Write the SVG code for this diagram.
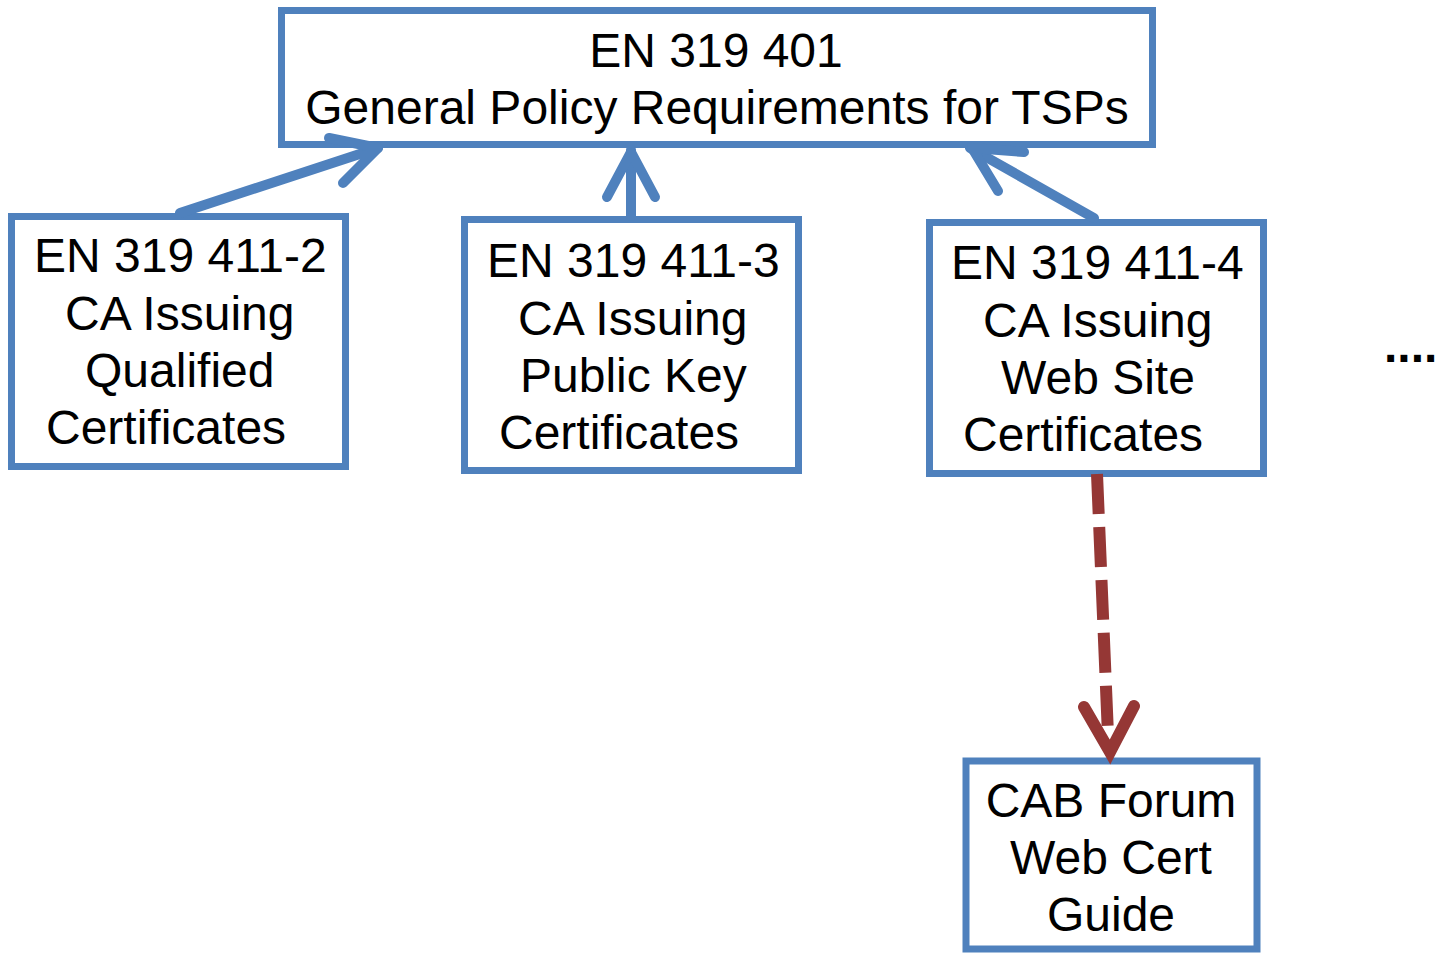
<svg xmlns="http://www.w3.org/2000/svg" width="1447" height="953" viewBox="0 0 1447 953">
<style>
.box{fill:#fff;stroke:#4f81bd;stroke-width:7}
.t{font-family:"Liberation Sans",Arial,sans-serif;font-size:48px;fill:#000}
.c{text-anchor:middle}
.blue{fill:none;stroke:#4f81bd;stroke-width:10;stroke-linecap:round;stroke-linejoin:round}
.red{fill:none;stroke:#953735;stroke-width:12}
</style>
<rect width="1447" height="953" fill="#fff"/>
<g id="n401">
<rect class="box" x="281.5" y="10.5" width="871" height="134"/>
<text class="t c" x="716" y="67">EN 319 401</text>
<text class="t c" x="717" y="124">General Policy Requirements for TSPs</text>
</g>
<g id="n4112">
<rect class="box" x="11.5" y="216.5" width="334" height="250"/>
<text class="t" x="34" y="272">EN 319 411-2</text>
<text class="t" x="65" y="330">CA Issuing</text>
<text class="t" x="85" y="387">Qualified</text>
<text class="t" x="46" y="444">Certificates</text>
</g>
<g id="n4113">
<rect class="box" x="464.5" y="219.5" width="334" height="251"/>
<text class="t" x="487" y="277">EN 319 411-3</text>
<text class="t" x="518" y="335">CA Issuing</text>
<text class="t" x="520" y="392">Public Key</text>
<text class="t" x="499" y="449">Certificates</text>
</g>
<g id="n4114">
<rect class="box" x="929.5" y="222.5" width="334" height="251"/>
<text class="t" x="951" y="279">EN 319 411-4</text>
<text class="t" x="983" y="337">CA Issuing</text>
<text class="t" x="1001" y="394">Web Site</text>
<text class="t" x="963" y="451">Certificates</text>
</g>
<g id="ncab">
<rect class="box" x="966" y="761" width="291" height="188"/>
<text class="t c" x="1111" y="817">CAB Forum</text>
<text class="t c" x="1111" y="874">Web Cert</text>
<text class="t c" x="1111" y="931">Guide</text>
</g>
<text class="t" x="1384" y="362" font-weight="bold">....</text>
<g id="connectors">
<path class="blue" d="M180,213 L378,148"/>
<path class="blue" d="M329,138 L378,148 L343,183"/>
<path class="blue" d="M631,216 L631,150"/>
<path class="blue" d="M607,197 L631,152 L655,197"/>
<path class="blue" d="M1094,218 L970,148"/>
<path class="blue" d="M1024,152 L972,148 L998,191"/>
<path class="red" d="M1097,474 L1108,735" stroke-dasharray="40 13"/>
<path class="red" d="M1084,707 L1110,752 L1134,706" stroke-linecap="round" stroke-linejoin="miter"/>
</g>
</svg>
